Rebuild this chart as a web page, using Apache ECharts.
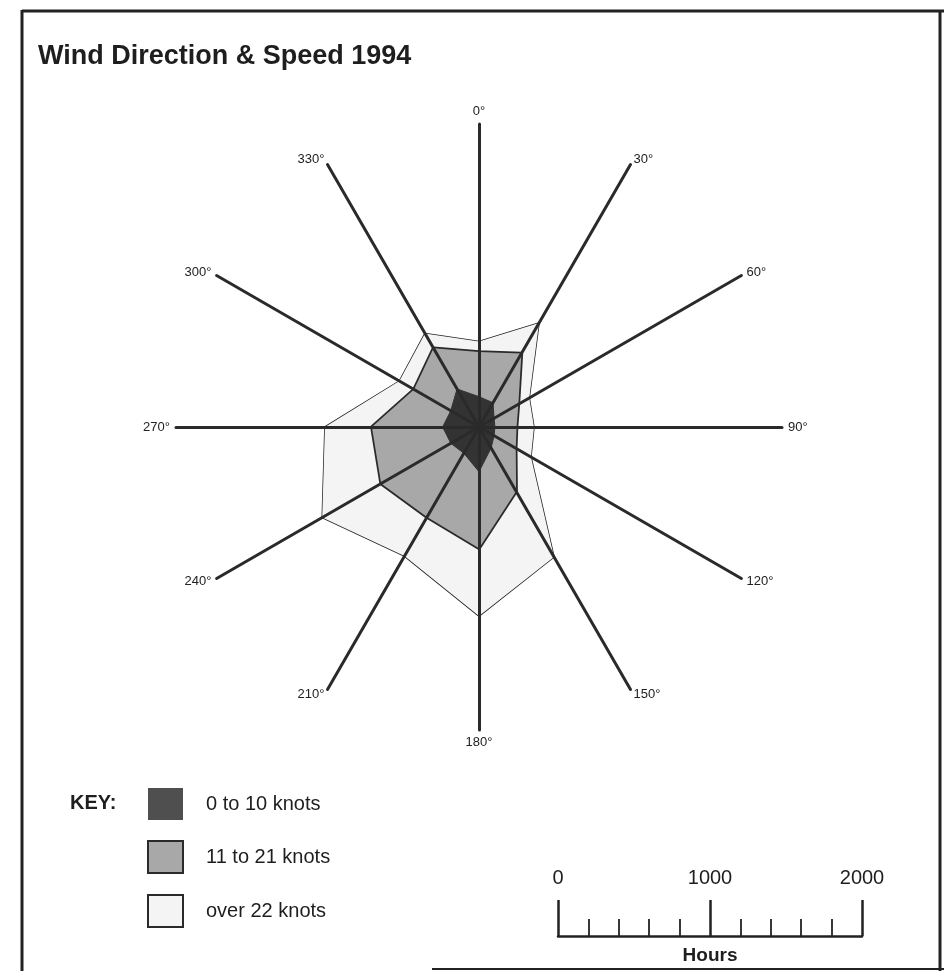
<!DOCTYPE html>
<html>
<head>
<meta charset="utf-8">
<script src="https://cdn.jsdelivr.net/npm/echarts@6/dist/echarts.min.js"></script>
<style>
html,body{margin:0;padding:0;background:#ffffff;}
#chart{width:944px;height:971px;}
</style>
</head>
<body>
<div id="chart"></div>
<script>
// Compass bearings of the spokes (clockwise from north)
const directions = ['0°','30°','60°','90°','120°','150°','180°','210°','240°','270°','300°','330°'];
// Hours: outer edge of each band along each spoke (bands are stacked)
const edge0to10Knots  = [200, 185, 115, 105, 115, 160, 295, 200, 215, 240, 215, 290];
const edge11to21Knots = [495, 560, 300, 248, 280, 490, 800, 686, 746, 707, 495, 600];
const edgeOver22Knots = [565, 792, 383, 363, 396, 990, 1248, 984, 1195, 1017, 607, 713];
const bandNames = ['0 to 10 knots', '11 to 21 knots', 'over 22 knots'];
const scaleTickLabels = [0, 1000, 2000];
const maxHours = 2000;

const FONT = 'Liberation Sans, Arial, Helvetica, sans-serif';

// ECharts lays radar indicators out counter-clockwise; reorder so bearings run clockwise.
const order = directions.map((d, i) => (directions.length - i) % directions.length);
const pick = arr => order.map(i => arr[i]);

const chart = echarts.init(document.getElementById('chart'), null, {renderer: 'canvas'});

const option = {
  animation: false,
  backgroundColor: '#ffffff',
  title: {
    text: 'Wind Direction & Speed 1994',
    left: 33, top: 38,
    textStyle: {fontFamily: FONT, fontSize: 27, fontWeight: 'bold', color: '#1e1e1e'}
  },
  radar: {
    center: [479, 427],
    radius: 303,
    startAngle: 90,
    shape: 'polygon',
    z: 10,
    nameGap: 6,
    indicator: order.map(i => ({name: directions[i], min: 0, max: maxHours})),
    axisName: {color: '#222', fontSize: 13, fontFamily: FONT},
    axisLine: {lineStyle: {color: '#2a2a2a', width: 3}},
    splitLine: {show: false},
    splitArea: {show: false},
    axisTick: {show: false},
    axisLabel: {show: false}
  },
  legend: {
    orient: 'vertical',
    left: 142, top: 783,
    itemWidth: 35, itemHeight: 32, itemGap: 20,
    icon: 'rect',
    selectedMode: false,
    textStyle: {fontFamily: FONT, fontSize: 20, color: '#1e1e1e', padding: [0, 0, 0, 18]},
    data: [
      {name: bandNames[0], itemStyle: {color: '#4f4f4f', borderWidth: 0}},
      {name: bandNames[1], itemStyle: {color: '#a8a8a8', borderColor: '#2a2a2a', borderWidth: 2}},
      {name: bandNames[2], itemStyle: {color: '#f4f4f4', borderColor: '#2a2a2a', borderWidth: 2}}
    ]
  },
  grid: {left: 558, width: 304, top: 900, height: 36},
  xAxis: [
    {
      type: 'value', min: 0, max: maxHours, interval: 1000, position: 'bottom',
      axisLine: {show: true, lineStyle: {color: '#222', width: 2.5}},
      axisTick: {show: true, inside: true, length: 36, lineStyle: {color: '#222', width: 2.5}},
      minorTick: {show: true, splitNumber: 5, length: 17, lineStyle: {color: '#222', width: 1.8}},
      splitLine: {show: false},
      axisLabel: {show: false},
      name: 'Hours', nameLocation: 'middle', nameGap: 10,
      nameTextStyle: {fontFamily: FONT, fontSize: 19, fontWeight: 'bold', color: '#1e1e1e'}
    },
    {
      type: 'value', min: 0, max: maxHours, interval: 1000, position: 'top',
      axisLine: {show: false}, axisTick: {show: false}, splitLine: {show: false},
      axisLabel: {
        show: true, margin: 12, fontFamily: FONT, fontSize: 20, color: '#1e1e1e',
        formatter: v => scaleTickLabels.indexOf(v) >= 0 ? String(v) : ''
      }
    }
  ],
  yAxis: {type: 'value', show: false, min: 0, max: 1},
  graphic: [
    {type: 'line', shape: {x1: 22, y1: 11, x2: 944, y2: 11}, style: {stroke: '#222', lineWidth: 3}},
    {type: 'line', shape: {x1: 22, y1: 10, x2: 22, y2: 971}, style: {stroke: '#222', lineWidth: 3}},
    {type: 'line', shape: {x1: 940, y1: 10, x2: 940, y2: 971}, style: {stroke: '#222', lineWidth: 3}},
    {type: 'line', shape: {x1: 432, y1: 969, x2: 944, y2: 969}, style: {stroke: '#222', lineWidth: 2}},
    {type: 'text', left: 70, top: 793, style: {text: 'KEY:', font: 'bold 20px ' + FONT, fill: '#1e1e1e'}}
  ],
  series: [
    {
      type: 'radar', z: 2, symbol: 'none',
      lineStyle: {color: '#222', width: 1.5},
      areaStyle: {color: '#f4f4f4', opacity: 1},
      itemStyle: {color: '#f4f4f4'},
      data: [{name: bandNames[2], value: pick(edgeOver22Knots)}]
    },
    {
      type: 'radar', z: 3, symbol: 'none',
      lineStyle: {color: '#2a2a2a', width: 3.5},
      areaStyle: {color: '#a8a8a8', opacity: 1},
      itemStyle: {color: '#a8a8a8'},
      data: [{name: bandNames[1], value: pick(edge11to21Knots)}]
    },
    {
      type: 'radar', z: 4, symbol: 'none',
      lineStyle: {color: '#333', width: 1},
      areaStyle: {color: '#333333', opacity: 1},
      itemStyle: {color: '#333333'},
      data: [{name: bandNames[0], value: pick(edge0to10Knots)}]
    }
  ]
};
chart.setOption(option);
</script>
</body>
</html>
